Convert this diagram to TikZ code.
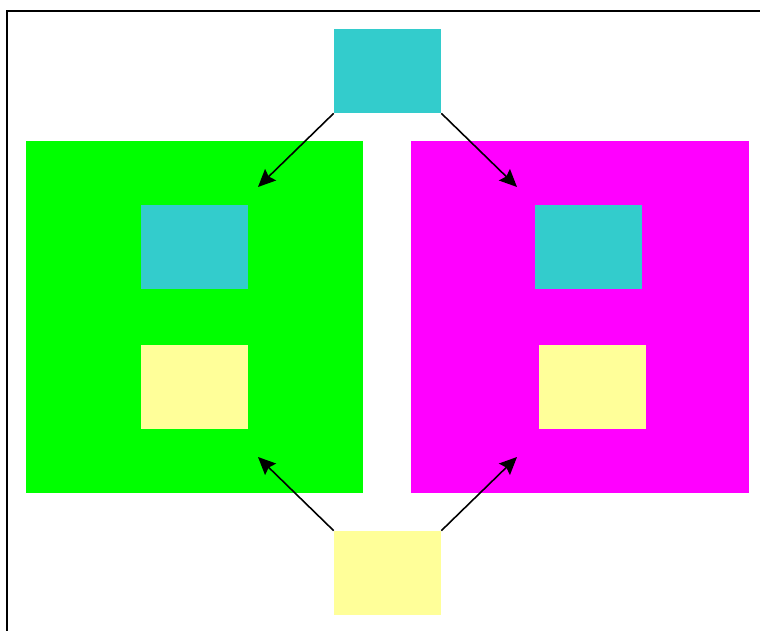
\documentclass[tikz,border=0pt]{standalone}
\usepackage{tikz}
\usetikzlibrary{arrows.meta,positioning}
\definecolor{blockCyan}  {HTML}{33CCCC}
\definecolor{blockYellow}{HTML}{FFFF99}
\definecolor{blockGreen} {HTML}{00FF00}
\definecolor{blockMagenta}{HTML}{FF00FF}

\begin{document}
\begin{tikzpicture}[x=0.02cm, y=-0.02cm,
      small/.style={draw=none, inner sep=0pt, minimum width=2.14cm, minimum height=1.68cm},
      big/.style={draw=none, inner sep=0pt, minimum height=7.04cm},
      link/.style={-{Stealth[length=10pt, width=9pt, inset=1.5pt]}, line width=0.9pt, draw=black}]
    \useasboundingbox (0,0) rectangle (760,631);
    % frame, cut by the page edge
    \draw[line width=1.4pt] (7,640) -- (7,11) -- (770,11);
    % the two large panels
    \node[big, fill=blockGreen, minimum width=6.74cm] (left) at (194.5,317) {};
    \node[big, fill=blockMagenta, minimum width=6.76cm] (right) at (580,317) {};
    % inner blocks
    \node[small, fill=blockCyan] (leftCyan) at (194.5,247) {};
    \node[small, fill=blockYellow] (leftYellow) at (194.5,387) {};
    \node[small, fill=blockCyan] (rightCyan) at (588,247) {};
    \node[small, fill=blockYellow] (rightYellow) at (592,387) {};
    % outer blocks
    \node[small, fill=blockCyan] (top) at (387.5,71) {};
    \node[small, fill=blockYellow] (bottom) at (387.5,573) {};
    % arrow ends
    \coordinate (leftIn)  at (258,187);
    \coordinate (rightIn) at (517,187);
    \coordinate (leftUp)  at (258,457);
    \coordinate (rightUp) at (517,457);
    \draw[link] (top.south west) -- (leftIn);
    \draw[link] (top.south east) -- (rightIn);
    \draw[link] (bottom.north west) -- (leftUp);
    \draw[link] (bottom.north east) -- (rightUp);
  \end{tikzpicture}
\end{document}
